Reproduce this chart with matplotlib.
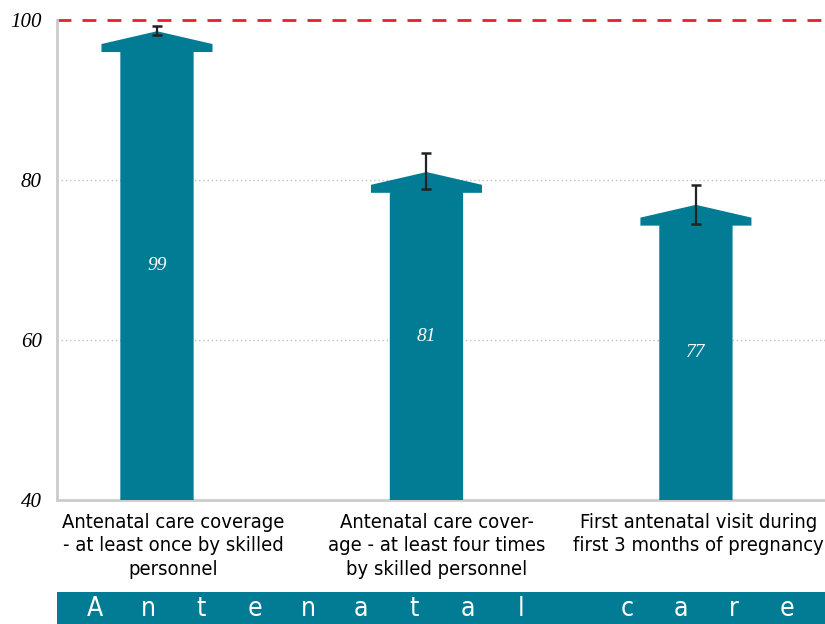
import numpy as np
import matplotlib
matplotlib.use("Agg")
import matplotlib.pyplot as plt
import matplotlib.transforms as mtransforms
from matplotlib.patches import Polygon, Rectangle
from matplotlib import font_manager

# data
categories = ["Antenatal care coverage\n- at least once by skilled\npersonnel",
              "Antenatal care cover-\nage - at least four times\nby skilled personnel",
              "First antenatal visit during\nfirst 3 months of pregnancy"]
values = [98.6, 81.0, 76.9]
err_low = [98.1, 78.9, 74.5]
err_high = [99.3, 83.4, 79.4]
yticks = [40, 60, 80, 100]
banner = "Antenatal care"

teal = "#017c94"
base = 40

# condensed sans for the category text if there is one
cond = [f for f in font_manager.fontManager.ttflist
        if f.name == "DejaVu Sans" and f.stretch == "condensed" and f.style == "normal"]
if cond:
    cat_font = dict(family="DejaVu Sans", stretch="condensed")
else:
    cat_font = dict(family="Roboto")

fig = plt.figure(figsize=(8.25, 6.24), dpi=100)
ax = fig.add_axes([0.0691, 0.1987, 0.9309, 0.7692])

x = np.arange(len(values))
body_w = 0.272
wing_half = 0.206
head_rise = 1.6
head_t = 1.0

for xi, v in zip(x, values):
    wb = v - head_rise - head_t
    wt = v - head_rise
    pts = [(xi - body_w / 2, base), (xi - body_w / 2, wb), (xi - wing_half, wb),
           (xi - wing_half, wt), (xi, v), (xi + wing_half, wt),
           (xi + wing_half, wb), (xi + body_w / 2, wb), (xi + body_w / 2, base)]
    ax.add_patch(Polygon(pts, closed=True, facecolor=teal, edgecolor="none", zorder=3))
    ax.text(xi, (base + v) / 2, str(int(round(v))), color="white", ha="center", va="center",
            fontsize=14, style="italic", family="Liberation Serif", zorder=4)

mid = [(l + h) / 2 for l, h in zip(err_low, err_high)]
yerr = [[m - l for m, l in zip(mid, err_low)], [h - m for h, m in zip(err_high, mid)]]
ax.errorbar(x, mid, yerr=yerr, fmt="none", ecolor="#222222", elinewidth=1.6,
            capsize=3.5, capthick=1.8, zorder=5)

ax.axhline(100, color="#e8202a", lw=2, ls=(0, (5, 4)), zorder=2, clip_on=False)
for t in [60, 80]:
    ax.axhline(t, color="#c0c0c0", lw=1, ls=(0, (1, 2)), zorder=1)

ax.set_xlim(-0.371, 2.479)
ax.set_ylim(40, 100)
ax.set_yticks(yticks)
ax.set_yticklabels([str(t) for t in yticks], fontsize=15, style="italic", family="Liberation Serif")
ax.set_xticks(x)
ax.set_xticklabels(categories, fontsize=14.5, linespacing=1.3, **cat_font)
ax.tick_params(axis="both", length=0)
ax.tick_params(axis="y", pad=11)
ax.tick_params(axis="x", pad=9)
# labels sit a little right of the bars in the reference
for lab, dx in zip(ax.get_xticklabels(), [16, 10, 3]):
    lab.set_transform(lab.get_transform() + mtransforms.ScaledTranslation(dx / 100, 0, fig.dpi_scale_trans))
for s in ["top", "right"]:
    ax.spines[s].set_visible(False)
for s in ["left", "bottom"]:
    ax.spines[s].set_color("#cccccc")
    ax.spines[s].set_linewidth(2)

# banner strip at the bottom
fig.patches.append(Rectangle((57 / 825, 0), 1 - 57 / 825, 32 / 624, transform=fig.transFigure,
                             facecolor=teal, edgecolor="none"))
step = (787 - 95) / (len(banner) - 1)
for i, ch in enumerate(banner):
    fig.text((95 + i * step) / 825, 15 / 624, ch, color="white", ha="center", va="center",
             fontsize=19, **cat_font)

fig.savefig("out.png", dpi=100)
